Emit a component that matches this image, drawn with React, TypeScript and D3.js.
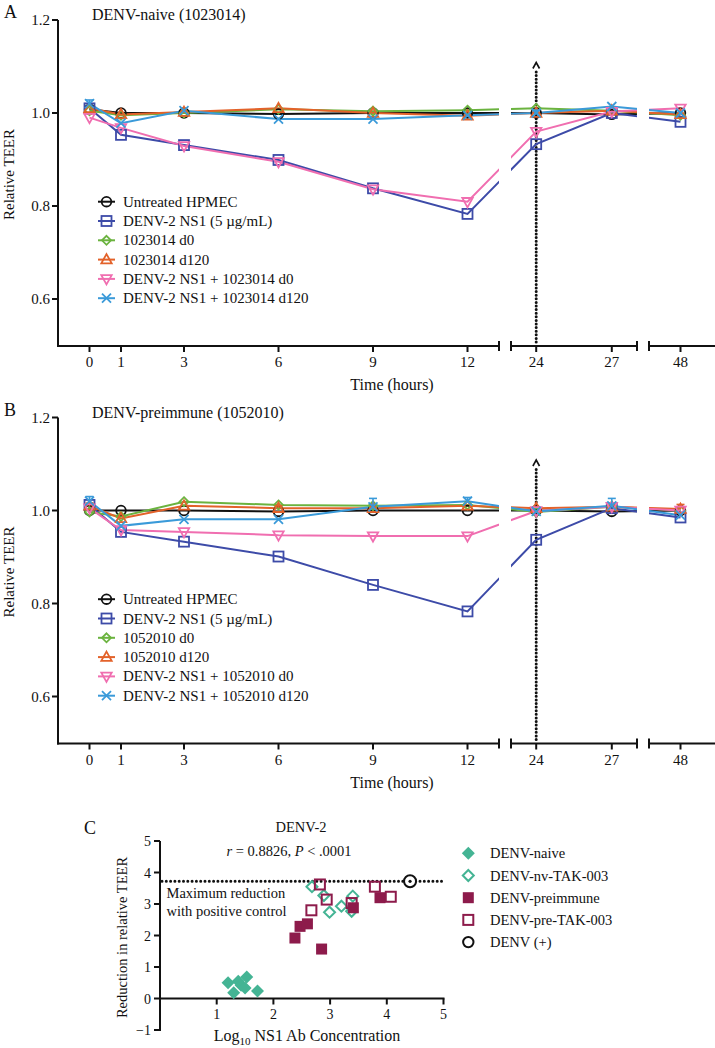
import React from "react";
import * as d3 from "d3";

const W = 715;
const H = 1048;
const FONT = "Liberation Serif, Tinos, Times New Roman, DejaVu Serif, serif";

// ---- time-course data (relative TEER) ----
const hours = [0, 1, 3, 6, 9, 12, 24, 27, 48];
const yTicks = [0.6, 0.8, 1.0, 1.2];

const naiveLabels = [
  "Untreated HPMEC",
  "DENV-2 NS1 (5 µg/mL)",
  "1023014 d0",
  "1023014 d120",
  "DENV-2 NS1 + 1023014 d0",
  "DENV-2 NS1 + 1023014 d120",
];
const preLabels = [
  "Untreated HPMEC",
  "DENV-2 NS1 (5 µg/mL)",
  "1052010 d0",
  "1052010 d120",
  "DENV-2 NS1 + 1052010 d0",
  "DENV-2 NS1 + 1052010 d120",
];

const aUntreated = [1.008, 1.0, 1.0, 0.998, 1.0, 1.0, 1.0, 0.997, 1.0];
const aNs1 = [1.01, 0.953, 0.931, 0.899, 0.838, 0.783, 0.933, 1.0, 0.981];
const aD0 = [1.005, 0.995, 1.0, 1.008, 1.004, 1.006, 1.01, 1.005, 0.995];
const aD120 = [1.01, 0.997, 1.002, 1.01, 1.0, 0.994, 1.0, 1.005, 0.997];
const aNs1D0 = [0.99, 0.968, 0.929, 0.895, 0.836, 0.809, 0.96, 1.003, 1.01];
const aNs1D120 = [1.02, 0.978, 1.005, 0.987, 0.987, 0.995, 1.0, 1.014, 1.0];
const aErrNs1D120 = [0.008, 0, 0, 0, 0, 0, 0.006, 0, 0];

const bUntreated = [1.0, 1.0, 1.0, 0.998, 1.0, 1.0, 1.0, 0.998, 1.0];
const bNs1 = [1.012, 0.954, 0.933, 0.901, 0.84, 0.783, 0.937, 1.005, 0.985];
const bD0 = [0.997, 0.987, 1.019, 1.012, 1.01, 1.012, 0.997, 1.008, 1.0];
const bD120 = [1.01, 0.983, 1.01, 1.005, 1.005, 1.01, 1.005, 1.008, 1.003];
const bNs1D0 = [1.005, 0.958, 0.954, 0.947, 0.945, 0.945, 0.999, 1.008, 1.0];
const bNs1D120 = [1.02, 0.967, 0.981, 0.981, 1.008, 1.02, 0.998, 1.01, 0.99];
const bErrNs1D120 = [0.01, 0, 0, 0, 0.018, 0.008, 0, 0.016, 0];
const bErrD120 = [0.006, 0, 0, 0.005, 0, 0, 0, 0, 0.01];

const seriesColors = ["#111111", "#3d4ba8", "#6bb33f", "#e3622a", "#f06eb0", "#3a9ad9"];
const seriesShapes = ["circle", "square", "diamond", "triUp", "triDown", "cross"];

// ---- correlation data (panel C) ----
const naivePts = [
  [1.2, 0.5], [1.3, 0.18], [1.38, 0.55], [1.43, 0.42], [1.53, 0.68], [1.5, 0.33], [1.72, 0.24],
];
const nvTakPts = [
  [2.68, 3.55], [2.89, 3.27], [2.99, 2.74], [3.2, 2.93], [3.4, 3.25], [3.38, 2.77],
];
const prePts = [
  [2.38, 1.92], [2.47, 2.29], [2.6, 2.37], [2.85, 1.57], [3.41, 2.88], [3.88, 3.2],
];
const preTakPts = [
  [2.82, 3.62], [2.94, 3.14], [2.67, 2.8], [3.79, 3.55], [4.07, 3.23], [3.38, 3.03],
];
const posControl = [4.41, 3.72];
const maxReduction = 3.72;
const cLegend = ["DENV-naive", "DENV-nv-TAK-003", "DENV-preimmune", "DENV-pre-TAK-003", "DENV (+)"];
const cXTicks = [1, 2, 3, 4, 5];
const cYTicks = [-1, 0, 1, 2, 3, 4, 5];

const TEAL = "#44b494";
const MAROON = "#8d1b4b";

function Marker({ shape, x, y, color }: { shape: string; x: number; y: number; color: string }) {
  const sw = 1.8;
  if (shape === "circle")
    return <circle cx={x} cy={y} r={4.8} fill="none" stroke={color} strokeWidth={sw} />;
  if (shape === "square")
    return <rect x={x - 5} y={y - 5} width={10} height={10} fill="none" stroke={color} strokeWidth={sw} />;
  if (shape === "diamond")
    return (
      <polygon
        points={`${x},${y - 4.5} ${x + 4.5},${y} ${x},${y + 4.5} ${x - 4.5},${y}`}
        fill="none"
        stroke={color}
        strokeWidth={sw}
      />
    );
  if (shape === "triUp")
    return (
      <polygon
        points={`${x},${y - 5.5} ${x + 5.2},${y + 3.8} ${x - 5.2},${y + 3.8}`}
        fill="none"
        stroke={color}
        strokeWidth={sw}
      />
    );
  if (shape === "triDown")
    return (
      <polygon
        points={`${x},${y + 5.5} ${x + 5.2},${y - 3.8} ${x - 5.2},${y - 3.8}`}
        fill="none"
        stroke={color}
        strokeWidth={sw}
      />
    );
  return (
    <g stroke={color} strokeWidth={sw}>
      <line x1={x - 4.5} y1={y - 4.5} x2={x + 4.5} y2={y + 4.5} />
      <line x1={x - 4.5} y1={y + 4.5} x2={x + 4.5} y2={y - 4.5} />
    </g>
  );
}

// broken x axis: three linear pieces
const xSegs = [
  d3.scaleLinear().domain([-1, 13]).range([58, 499]),
  d3.scaleLinear().domain([23, 28]).range([511, 637]),
  d3.scaleLinear().domain([47, 49]).range([649, 712]),
];
const xPos = (t: number) => (t <= 13 ? xSegs[0](t) : t <= 28 ? xSegs[1](t) : xSegs[2](t));

function TimePanel({
  id,
  top,
  letter,
  title,
  labels,
  series,
  errs,
}: {
  id: string;
  top: number;
  letter: string;
  title: string;
  labels: string[];
  series: number[][];
  errs: Record<number, number[]>;
}) {
  const axisY = top + 326;
  const y = d3.scaleLinear().domain([0.5, 1.2]).range([top + 325.5, top]);
  const ln = d3
    .line<number>()
    .x((_, i) => xPos(hours[i]))
    .y((d) => y(d));
  const x24 = xPos(24);
  const clipRects = [
    [58, 499],
    [511, 637],
    [649, 715],
  ];
  return (
    <g style={{ fontFamily: FONT }} fill="#111">
      <defs>
        <clipPath id={id}>
          {clipRects.map(([a, b], i) => (
            <rect key={i} x={a} y={top - 10} width={b - a} height={axisY - top + 10} />
          ))}
        </clipPath>
      </defs>
      <text x={4} y={top - 2} fontSize={18}>
        {letter}
      </text>
      <text x={92} y={top} fontSize={16}>
        {title}
      </text>

      {/* y axis */}
      <line x1={58} x2={58} y1={top} y2={axisY + 1} stroke="#111" strokeWidth={2} />
      {yTicks.map((t) => (
        <g key={t}>
          <line x1={52} x2={58} y1={y(t)} y2={y(t)} stroke="#111" strokeWidth={2} />
          <text x={50} y={y(t) + 5} fontSize={15} textAnchor="end">
            {t.toFixed(1)}
          </text>
        </g>
      ))}
      <text
        transform={`translate(14,${top + 154.5}) rotate(-90)`}
        fontSize={15}
        textAnchor="middle"
      >
        Relative TEER
      </text>

      {/* x axis with breaks */}
      {[
        [57, 499, false, true],
        [511, 637, true, true],
        [649, 715, true, false],
      ].map(([a, b, capL, capR], i) => (
        <g key={i} stroke="#111" strokeWidth={2}>
          <line x1={a as number} x2={b as number} y1={axisY} y2={axisY} />
          {capL && <line x1={a as number} x2={a as number} y1={axisY - 5} y2={axisY + 5} />}
          {capR && <line x1={b as number} x2={b as number} y1={axisY - 5} y2={axisY + 5} />}
        </g>
      ))}
      {hours.map((t) => (
        <g key={t}>
          <line x1={xPos(t)} x2={xPos(t)} y1={axisY} y2={axisY + 6} stroke="#111" strokeWidth={2} />
          <text x={xPos(t)} y={axisY + 21} fontSize={15} textAnchor="middle">
            {t}
          </text>
        </g>
      ))}
      <text x={392} y={axisY + 44} fontSize={16} textAnchor="middle">
        Time (hours)
      </text>

      {/* 24 h marker */}
      <line
        x1={x24}
        x2={x24}
        y1={top + 52}
        y2={axisY - 2}
        stroke="#111"
        strokeWidth={3}
        strokeDasharray="0 3.6"
        strokeLinecap="round"
      />
      <polyline
        points={`${x24 - 3.3},${top + 48.5} ${x24},${top + 42.5} ${x24 + 3.3},${top + 48.5}`}
        fill="none"
        stroke="#111"
        strokeWidth={1.6}
      />

      {/* series */}
      <g clipPath={`url(#${id})`}>
        {series.map((s, k) => (
          <path key={k} d={ln(s) ?? ""} fill="none" stroke={seriesColors[k]} strokeWidth={2} />
        ))}
      </g>
      {series.map((s, k) => (
        <g key={k}>
          {errs[k] &&
            errs[k].map((e, i) =>
              e > 0 ? (
                <g key={i} stroke={seriesColors[k]} strokeWidth={1.6}>
                  <line x1={xPos(hours[i])} x2={xPos(hours[i])} y1={y(s[i])} y2={y(s[i] + e)} />
                  <line
                    x1={xPos(hours[i]) - 4}
                    x2={xPos(hours[i]) + 4}
                    y1={y(s[i] + e)}
                    y2={y(s[i] + e)}
                  />
                </g>
              ) : null
            )}
          {s.map((v, i) => (
            <Marker key={i} shape={seriesShapes[k]} x={xPos(hours[i])} y={y(v)} color={seriesColors[k]} />
          ))}
        </g>
      ))}

      {/* legend */}
      {labels.map((l, k) => {
        const ry = top + 181.7 + 19.3 * k;
        return (
          <g key={l}>
            <line x1={98} x2={115} y1={ry} y2={ry} stroke={seriesColors[k]} strokeWidth={2} />
            <Marker shape={seriesShapes[k]} x={106.5} y={ry} color={seriesColors[k]} />
            <text x={123} y={ry + 5} fontSize={15}>
              {l}
            </text>
          </g>
        );
      })}
    </g>
  );
}

function ScatterMark({ kind, x, y }: { kind: string; x: number; y: number }) {
  if (kind === "naive")
    return <polygon points={`${x},${y - 6.5} ${x + 6.5},${y} ${x},${y + 6.5} ${x - 6.5},${y}`} fill={TEAL} />;
  if (kind === "nvTak")
    return (
      <polygon
        points={`${x},${y - 5.5} ${x + 5.5},${y} ${x},${y + 5.5} ${x - 5.5},${y}`}
        fill="none"
        stroke={TEAL}
        strokeWidth={2}
      />
    );
  if (kind === "pre") return <rect x={x - 5.5} y={y - 5.5} width={11} height={11} fill={MAROON} />;
  if (kind === "preTak")
    return <rect x={x - 5} y={y - 5} width={10} height={10} fill="none" stroke={MAROON} strokeWidth={2} />;
  return <circle cx={x} cy={y} r={5.2} fill="none" stroke="#111" strokeWidth={2} />;
}

function ScatterPanel() {
  const x = d3.scaleLinear().domain([0, 5]).range([160, 443.5]);
  const y = d3.scaleLinear().domain([-1, 5]).range([1030, 841]);
  const groups: [string, number[][]][] = [
    ["naive", naivePts],
    ["nvTak", nvTakPts],
    ["pre", prePts],
    ["preTak", preTakPts],
  ];
  const legendKinds = ["naive", "nvTak", "pre", "preTak", "pos"];
  return (
    <g style={{ fontFamily: FONT }} fill="#111">
      <text x={84} y={834} fontSize={18}>
        C
      </text>
      <text x={301} y={832} fontSize={14.5} textAnchor="middle">
        DENV-2
      </text>
      <text x={289} y={856} fontSize={14.5} textAnchor="middle">
        <tspan fontStyle="italic">r</tspan> = 0.8826, <tspan fontStyle="italic">P</tspan> &lt; .0001
      </text>

      <line x1={160} x2={160} y1={841} y2={1031} stroke="#111" strokeWidth={2} />
      {cYTicks.map((t) => (
        <g key={t}>
          <line x1={154} x2={160} y1={y(t)} y2={y(t)} stroke="#111" strokeWidth={2} />
          <text x={151} y={y(t) + 5} fontSize={14} textAnchor="end">
            {t < 0 ? `−${-t}` : t}
          </text>
        </g>
      ))}
      <line x1={159} x2={x(5) + 1} y1={y(0)} y2={y(0)} stroke="#111" strokeWidth={2} />
      {cXTicks.map((t) => (
        <g key={t}>
          <line x1={x(t)} x2={x(t)} y1={y(0)} y2={y(0) + 6} stroke="#111" strokeWidth={2} />
          <text x={x(t)} y={y(0) + 20} fontSize={14} textAnchor="middle">
            {t}
          </text>
        </g>
      ))}
      <text transform="translate(127,937.5) rotate(-90)" fontSize={14.5} textAnchor="middle">
        Reduction in relative TEER
      </text>
      <text x={307} y={1041} fontSize={16} textAnchor="middle">
        Log
        <tspan fontSize={11} dy={4}>
          10
        </tspan>
        <tspan dy={-4}> NS1 Ab Concentration</tspan>
      </text>

      <line
        x1={162}
        x2={444}
        y1={y(maxReduction)}
        y2={y(maxReduction)}
        stroke="#111"
        strokeWidth={3}
        strokeDasharray="0 4.3"
        strokeLinecap="round"
      />
      <text x={166.5} y={898} fontSize={14.5}>
        Maximum reduction
      </text>
      <text x={166.5} y={916} fontSize={14.5}>
        with positive control
      </text>

      {groups.map(([kind, pts]) =>
        pts.map(([a, b], i) => <ScatterMark key={kind + i} kind={kind} x={x(a)} y={y(b)} />)
      )}
      <circle cx={x(posControl[0])} cy={y(posControl[1])} r={6} fill="#fff" stroke="#111" strokeWidth={2} />
      <circle cx={x(posControl[0])} cy={y(posControl[1])} r={1.6} fill="#111" />

      {cLegend.map((l, k) => {
        const ry = 853.3 + 22.2 * k;
        return (
          <g key={l}>
            <ScatterMark kind={legendKinds[k]} x={468.3} y={ry} />
            <text x={490} y={ry + 5} fontSize={14.5}>
              {l}
            </text>
          </g>
        );
      })}
    </g>
  );
}

export default function App() {
  return (
    <svg
      width={W}
      height={H}
      viewBox={`0 0 ${W} ${H}`}
      style={{ position: "absolute", left: 0, top: 0, background: "#fff" }}
    >
      <rect width={W} height={H} fill="#fff" />
      <TimePanel
        id="clipA"
        top={20}
        letter="A"
        title="DENV-naive (1023014)"
        labels={naiveLabels}
        series={[aUntreated, aNs1, aD0, aD120, aNs1D0, aNs1D120]}
        errs={{ 5: aErrNs1D120 }}
      />
      <TimePanel
        id="clipB"
        top={417.5}
        letter="B"
        title="DENV-preimmune (1052010)"
        labels={preLabels}
        series={[bUntreated, bNs1, bD0, bD120, bNs1D0, bNs1D120]}
        errs={{ 5: bErrNs1D120, 3: bErrD120 }}
      />
      <ScatterPanel />
    </svg>
  );
}
